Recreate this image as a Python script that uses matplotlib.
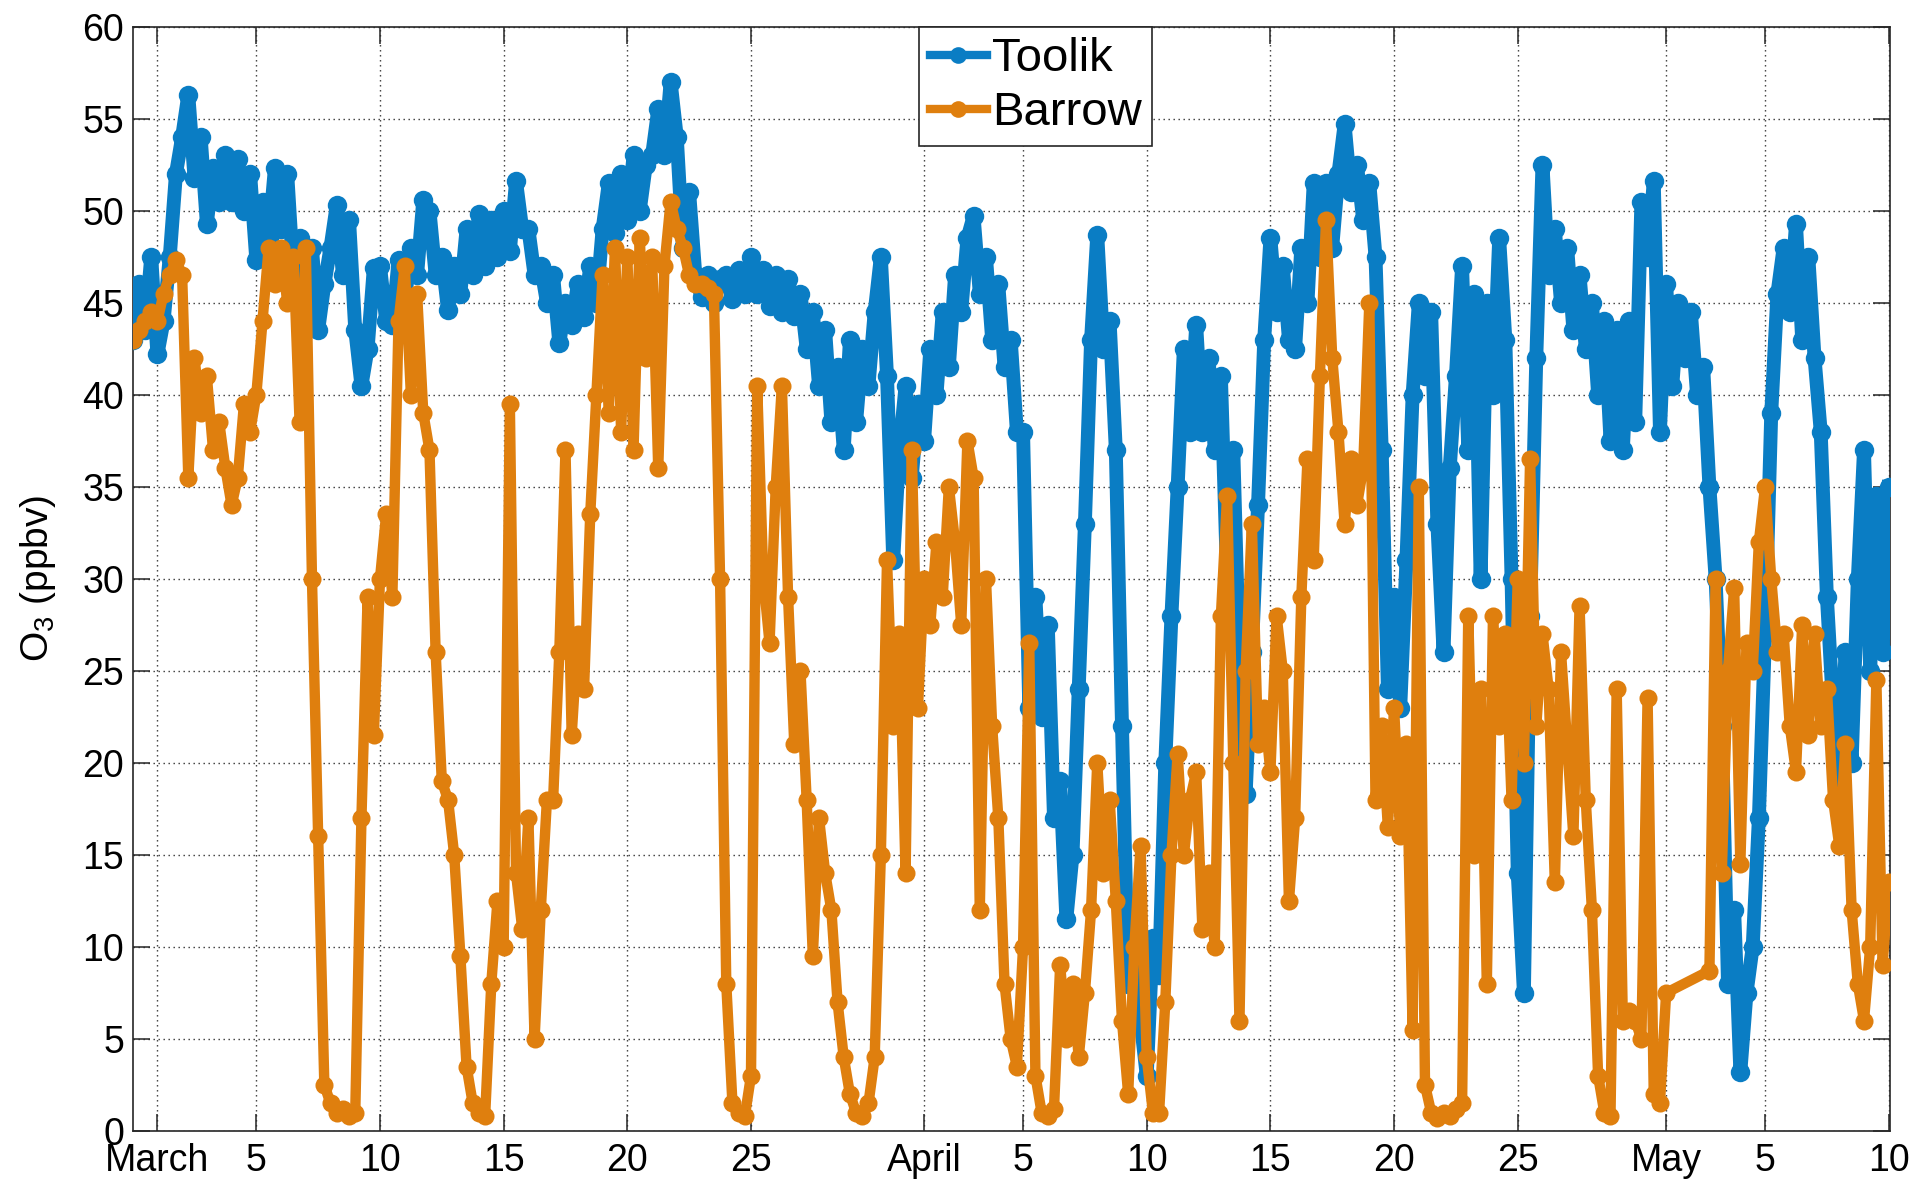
import numpy as np
import matplotlib
matplotlib.use("Agg")
import matplotlib.pyplot as plt

plt.rcParams['font.family'] = ['Liberation Sans', 'DejaVu Sans']
plt.rcParams['mathtext.default'] = 'regular'

# Time axis: days since Feb 28 00:00 (March 1 = day 1), 6-hourly samples
sample_step_days = 0.25

toolik_o3 = [
    43.0, 46.0, 43.5, 47.5,   # Feb 28
    42.2, 44.0, 47.5, 52.0,   # Mar 1
    54.0, 56.3, 51.8, 54.0,
    49.3, 52.3, 50.5, 53.0,
    50.5, 52.8, 50.0, 52.0,
    47.3, 50.5, 48.5, 52.3,   # Mar 5
    49.0, 52.0, 46.5, 48.5,
    45.0, 48.0, 43.5, 46.0,
    48.0, 50.3, 46.5, 49.5,
    43.5, 40.5, 42.5, 46.9,
    47.0, 44.0, 43.8, 47.3,   # Mar 10
    45.0, 48.0, 46.5, 50.6,
    50.0, 46.5, 47.5, 44.6,
    47.0, 45.5, 49.0, 46.5,
    49.8, 47.0, 49.5, 47.5,
    50.0, 47.8, 51.6, 49.0,   # Mar 15
    49.0, 46.5, 47.0, 45.0,
    46.5, 42.8, 45.0, 43.8,
    46.0, 44.2, 47.0, 45.0,
    49.0, 51.5, 48.8, 52.0,
    49.5, 53.0, 50.0, 52.5,   # Mar 20
    53.0, 55.5, 53.0, 57.0,
    54.0, 48.0, 51.0, 46.5,
    45.3, 46.5, 45.0, 46.3,
    46.5, 45.2, 46.8, 45.5,
    47.5, 45.5, 46.8, 44.8,   # Mar 25
    46.5, 44.5, 46.3, 44.3,
    45.5, 42.5, 44.5, 40.5,
    43.5, 38.5, 41.5, 37.0,
    43.0, 38.5, 42.5, 40.5,
    44.5, 47.5, 41.0, 31.0,   # Mar 30
    37.0, 40.5, 35.5, 39.5,
    37.5, 42.5, 40.0, 44.5,   # Apr 1
    41.5, 46.5, 44.5, 48.5,
    49.7, 45.5, 47.5, 43.0,
    46.0, 41.5, 43.0, 38.0,
    38.0, 23.0, 29.0, 22.5,   # Apr 5
    27.5, 17.0, 19.0, 11.5,
    15.0, 24.0, 33.0, 43.0,
    48.7, 42.5, 44.0, 37.0,
    22.0, 8.0, 11.5, 6.0,
    3.0, 10.5, 8.5, 20.0,     # Apr 10
    28.0, 35.0, 42.5, 38.0,
    43.8, 38.0, 42.0, 37.0,
    41.0, 30.0, 37.0, 25.0,
    18.3, 26.0, 34.0, 43.0,
    48.5, 44.5, 47.0, 43.0,   # Apr 15
    42.5, 48.0, 45.0, 51.5,
    47.5, 51.5, 48.0, 52.0,
    54.7, 51.0, 52.5, 49.5,
    51.5, 47.5, 37.0, 24.0,
    29.0, 23.0, 31.0, 40.0,   # Apr 20
    45.0, 41.0, 44.5, 33.0,
    26.0, 36.0, 41.0, 47.0,
    37.0, 45.5, 30.0, 45.0,
    40.0, 48.5, 43.0, 30.0,
    14.0, 7.5, 28.0, 42.0,    # Apr 25
    52.5, 46.5, 49.0, 45.0,
    48.0, 43.5, 46.5, 42.5,
    45.0, 40.0, 44.0, 37.5,
    43.5, 37.0, 44.0, 38.5,
    50.5, 47.5, 51.6, 38.0,   # Apr 30
    46.0, 40.5, 45.0, 42.0,   # May 1
    44.5, 40.0, 41.5, 35.0,
    30.0, 22.0, 8.0, 12.0,
    3.2, 7.5, 10.0, 17.0,
    27.0, 39.0, 45.5, 48.0,   # May 5
    44.5, 49.3, 43.0, 47.5,
    42.0, 38.0, 29.0, 23.0,
    18.0, 26.0, 20.0, 30.0,
    37.0, 25.0, 34.5, 26.0,
    35.0,                     # May 10
]

barrow_o3 = [
    43.0, 43.5, 44.0, 44.5,   # Feb 28
    44.0, 45.5, 46.5, 47.3,   # Mar 1
    46.5, 35.5, 42.0, 39.0,
    41.0, 37.0, 38.5, 36.0,
    34.0, 35.5, 39.5, 38.0,
    40.0, 44.0, 48.0, 46.0,   # Mar 5
    48.0, 45.0, 47.5, 38.5,
    48.0, 30.0, 16.0, 2.5,
    1.5, 1.0, 1.2, 0.8,
    1.0, 17.0, 29.0, 21.5,
    30.0, 33.5, 29.0, 44.0,   # Mar 10
    47.0, 40.0, 45.5, 39.0,
    37.0, 26.0, 19.0, 18.0,
    15.0, 9.5, 3.5, 1.5,
    1.0, 0.8, 8.0, 12.5,
    10.0, 39.5, 14.0, 11.0,   # Mar 15
    17.0, 5.0, 12.0, 18.0,
    18.0, 26.0, 37.0, 21.5,
    27.0, 24.0, 33.5, 40.0,
    46.5, 39.0, 48.0, 38.0,
    47.5, 37.0, 48.5, 42.0,   # Mar 20
    47.5, 36.0, 47.0, 50.5,
    49.0, 48.0, 46.5, 46.0,
    46.0, 45.8, 45.5, 30.0,
    8.0, 1.5, 1.0, 0.8,
    3.0, 40.5, 30.0, 26.5,    # Mar 25
    35.0, 40.5, 29.0, 21.0,
    25.0, 18.0, 9.5, 17.0,
    14.0, 12.0, 7.0, 4.0,
    2.0, 1.0, 0.8, 1.5,
    4.0, 15.0, 31.0, 22.0,    # Mar 30
    27.0, 14.0, 37.0, 23.0,
    30.0, 27.5, 32.0, 29.0,   # Apr 1
    35.0, 32.0, 27.5, 37.5,
    35.5, 12.0, 30.0, 22.0,
    17.0, 8.0, 5.0, 3.5,
    10.0, 26.5, 3.0, 1.0,     # Apr 5
    0.8, 1.2, 9.0, 5.0,
    8.0, 4.0, 7.5, 12.0,
    20.0, 14.0, 18.0, 12.5,
    6.0, 2.0, 10.0, 15.5,
    4.0, 1.0, 1.0, 7.0,       # Apr 10
    15.0, 20.5, 15.0, 18.0,
    19.5, 11.0, 14.0, 10.0,
    28.0, 34.5, 20.0, 6.0,
    25.0, 33.0, 21.0, 23.0,
    19.5, 28.0, 25.0, 12.5,   # Apr 15
    17.0, 29.0, 36.5, 31.0,
    41.0, 49.5, 42.0, 38.0,
    33.0, 36.5, 34.0, 36.0,
    45.0, 18.0, 22.0, 16.5,
    23.0, 16.0, 21.0, 5.5,    # Apr 20
    35.0, 2.5, 1.0, 0.7,
    1.0, 0.8, 1.2, 1.5,
    28.0, 15.0, 24.0, 8.0,
    28.0, 22.0, 27.0, 18.0,
    30.0, 20.0, 36.5, 22.0,   # Apr 25
    27.0, 24.0, 13.5, 26.0,
    21.0, 16.0, 28.5, 18.0,
    12.0, 3.0, 1.0, 0.8,
    24.0, 6.0, 6.5, 6.0,
    5.0, 23.5, 2.0, 1.5,      # Apr 30
    7.5, None, None, None,    # May 1 (data gap)
    None, None, None, 8.7,
    30.0, 14.0, 25.0, 29.5,
    14.5, 26.5, 25.0, 32.0,
    35.0, 30.0, 26.0, 27.0,   # May 5
    22.0, 19.5, 27.5, 21.5,
    27.0, 22.0, 24.0, 18.0,
    15.5, 21.0, 12.0, 8.0,
    6.0, 10.0, 24.5, 9.0,
    13.5,                     # May 10
]

tick_days = [1, 5, 10, 15, 20, 25, 32, 36, 41, 46, 51, 56, 62, 66, 71]
tick_labels = ["March", "5", "10", "15", "20", "25", "April", "5", "10",
               "15", "20", "25", "May", "5", "10"]
y_ticks = list(range(0, 61, 5))

toolik_color = '#0a7dc4'
barrow_color = '#df7f0e'

t_toolik = np.arange(len(toolik_o3)) * sample_step_days
t_barrow = np.arange(len(barrow_o3)) * sample_step_days
b_vals = np.array([np.nan if v is None else v for v in barrow_o3], dtype=float)
ok = ~np.isnan(b_vals)

fig = plt.figure(figsize=(19.17, 11.85), dpi=100)
ax = fig.add_axes([0.0692, 0.0456, 0.9167, 0.9319])

ax.plot(t_toolik, toolik_o3, '-o', color=toolik_color, lw=10.0, ms=14,
        mew=0, label='Toolik', zorder=3, solid_joinstyle='round')
ax.plot(t_barrow[ok], b_vals[ok], '-o', color=barrow_color, lw=7.5, ms=13,
        mew=0, label='Barrow', zorder=4, solid_joinstyle='round')

ax.set_xlim(0.0, 71.05)
ax.set_ylim(0, 60)
ax.set_xticks(tick_days)
ax.set_xticklabels(tick_labels)
ax.set_yticks(y_ticks)

ax.set_axisbelow(True)
ax.grid(True, which='major', linestyle=(0, (1, 2.6)), linewidth=1.0,
        color='#333333')

ax.tick_params(axis='both', which='major', direction='in', length=12,
               width=1.1, top=True, right=True, labelsize=27,
               color='#262626')
ax.tick_params(axis='x', pad=9)
ax.tick_params(axis='y', pad=6)
for s in ax.spines.values():
    s.set_linewidth(1.2)
    s.set_color('#262626')

ax.set_ylabel('O$_3$ (ppbv)', fontsize=28, labelpad=18)

leg = ax.legend(loc='upper center', bbox_to_anchor=(0.514, 1.0),
                borderaxespad=0, fontsize=34, handlelength=1.2,
                handletextpad=0.12, labelspacing=0.22, borderpad=0.22,
                fancybox=False, framealpha=1, edgecolor='#262626',
                numpoints=1)
leg.get_frame().set_linewidth(1.2)
for h in leg.get_lines():
    h.set_linewidth(6.0)
    h.set_markersize(12)

fig.savefig('out.png', dpi=100)
